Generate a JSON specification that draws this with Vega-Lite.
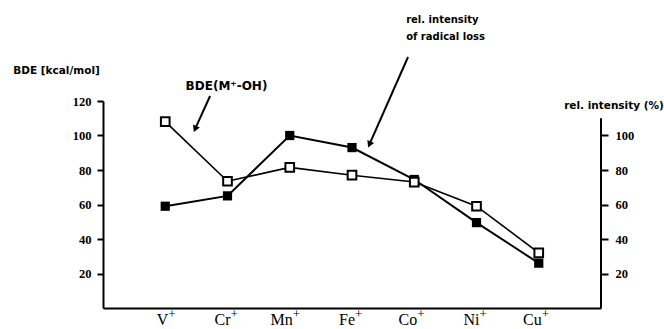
{
  "$schema": "https://vega.github.io/schema/vega-lite/v6.json",
  "width": 498,
  "height": 207,
  "autosize": {"type": "none"},
  "padding": {"left": 103, "top": 101, "right": 63, "bottom": 21},
  "background": "white",
  "config": {
    "view": {"stroke": null},
    "axis": {"grid": false, "domainColor": "black", "tickColor": "black", "labelColor": "black", "titleColor": "black"}
  },
  "datasets": {
    "ions": [
      {"ion": "V", "charge": "+", "Z": 23, "bde": 108, "rel": 59},
      {"ion": "Cr", "charge": "+", "Z": 24, "bde": 73.5, "rel": 65},
      {"ion": "Mn", "charge": "+", "Z": 25, "bde": 81.5, "rel": 100},
      {"ion": "Fe", "charge": "+", "Z": 26, "bde": 77, "rel": 93},
      {"ion": "Co", "charge": "+", "Z": 27, "bde": 73, "rel": 74.5},
      {"ion": "Ni", "charge": "+", "Z": 28, "bde": 59, "rel": 49.5},
      {"ion": "Cu", "charge": "+", "Z": 29, "bde": 32, "rel": 26}
    ],
    "arrows": [
      {"x1": 23.72, "y1": 122.9, "x2": 23.48, "y2": 103.8},
      {"x1": 26.9, "y1": 145.5, "x2": 26.28, "y2": 94.8}
    ],
    "axisline": [{"x": 30, "y1": 0, "y2": 110}],
    "centered": [{"text": "BDE(M⁺-OH)", "x": 23.984, "y": 128.7}],
    "leftnotes": [
      {"text": "rel. intensity", "x": 26.87, "y": 167},
      {"text": "of radical loss", "x": 26.87, "y": 157.1}
    ]
  },
  "layer": [
    {
      "data": {"name": "ions"},
      "encoding": {
        "x": {
          "field": "Z", "type": "quantitative",
          "scale": {"domain": [22, 30], "nice": false, "zero": false},
          "axis": {
            "values": [23, 24, 25, 26, 27, 28, 29], "labels": false,
            "ticks": false, "domainWidth": 2, "title": null
          }
        },
        "y": {
          "field": "rel", "type": "quantitative",
          "scale": {"domain": [0, 120], "nice": false},
          "axis": {
            "orient": "right", "values": [20, 40, 60, 80, 100], "domain": false,
            "tickSize": 7, "tickWidth": 2, "labelPadding": 7,
            "labelFont": "Liberation Serif", "labelFontSize": 12.5, "labelFontWeight": "bold",
            "title": "rel. intensity (%)", "titleAngle": 0, "titleX": 12.5, "titleY": 4,
            "titleAlign": "center", "titleBaseline": "middle",
            "titleFont": "DejaVu Sans", "titleFontSize": 10.5, "titleFontWeight": "bold"
          }
        }
      },
      "layer": [
        {"mark": {"type": "line", "color": "black", "strokeWidth": 2}},
        {"mark": {"type": "point", "shape": "square", "filled": true, "color": "black", "size": 85, "opacity": 1}}
      ]
    },
    {
      "data": {"name": "ions"},
      "encoding": {
        "x": {"field": "Z", "type": "quantitative", "scale": {"domain": [22, 30], "nice": false, "zero": false}},
        "y": {
          "field": "bde", "type": "quantitative",
          "scale": {"domain": [0, 120], "nice": false},
          "axis": {
            "orient": "left", "values": [20, 40, 60, 80, 100, 120],
            "domainWidth": 2, "tickSize": 6, "tickWidth": 2, "labelPadding": 6,
            "labelFont": "Liberation Serif", "labelFontSize": 12.5, "labelFontWeight": "bold",
            "title": "BDE [kcal/mol]", "titleAngle": 0, "titleX": -47, "titleY": -31,
            "titleAlign": "center", "titleBaseline": "middle",
            "titleFont": "DejaVu Sans", "titleFontSize": 10.5, "titleFontWeight": "bold"
          }
        }
      },
      "layer": [
        {"mark": {"type": "line", "color": "black", "strokeWidth": 1.6}},
        {"mark": {"type": "point", "shape": "square", "filled": false, "fill": "white", "stroke": "black", "strokeWidth": 2, "size": 75, "opacity": 1}}
      ]
    },
    {
      "layer": [
        {
          "data": {"name": "axisline"},
          "mark": {"type": "rule", "color": "black", "strokeWidth": 2},
          "encoding": {
            "x": {"field": "x", "type": "quantitative", "scale": {"domain": [22, 30], "nice": false, "zero": false}},
            "y": {"field": "y1", "type": "quantitative", "scale": {"domain": [0, 120], "nice": false}, "axis": null},
            "y2": {"field": "y2"}
          }
        },
        {
          "data": {"name": "arrows"},
          "mark": {"type": "rule", "color": "black", "strokeWidth": 2},
          "encoding": {
            "x": {"field": "x1", "type": "quantitative", "scale": {"domain": [22, 30], "nice": false, "zero": false}},
            "x2": {"field": "x2"},
            "y": {"field": "y1", "type": "quantitative"},
            "y2": {"field": "y2"}
          }
        },
        {
          "data": {"name": "arrows"},
          "mark": {"type": "point", "shape": "triangle-down", "angle": 24, "filled": true, "color": "black", "size": 55, "opacity": 1},
          "encoding": {
            "x": {"field": "x2", "type": "quantitative", "scale": {"domain": [22, 30], "nice": false, "zero": false}},
            "y": {"field": "y2", "type": "quantitative"}
          }
        },
        {
          "data": {"name": "centered"},
          "mark": {"type": "text", "align": "center", "baseline": "middle", "font": "DejaVu Sans", "fontSize": 12, "fontWeight": "bold", "color": "black"},
          "encoding": {
            "x": {"field": "x", "type": "quantitative", "scale": {"domain": [22, 30], "nice": false, "zero": false}},
            "y": {"field": "y", "type": "quantitative"},
            "text": {"field": "text"}
          }
        },
        {
          "data": {"name": "leftnotes"},
          "mark": {"type": "text", "align": "left", "baseline": "middle", "font": "DejaVu Sans", "fontSize": 10, "fontWeight": "bold", "color": "black"},
          "encoding": {
            "x": {"field": "x", "type": "quantitative", "scale": {"domain": [22, 30], "nice": false, "zero": false}},
            "y": {"field": "y", "type": "quantitative"},
            "text": {"field": "text"}
          }
        },
        {
          "data": {"name": "ions"},
          "mark": {"type": "text", "align": "right", "baseline": "alphabetic", "dx": 3, "dy": 17, "font": "Liberation Serif", "fontSize": 16, "color": "black"},
          "encoding": {
            "x": {"field": "Z", "type": "quantitative", "scale": {"domain": [22, 30], "nice": false, "zero": false}},
            "y": {"datum": 0, "type": "quantitative"},
            "text": {"field": "ion"}
          }
        },
        {
          "data": {"name": "ions"},
          "mark": {"type": "text", "align": "left", "baseline": "alphabetic", "dx": 3, "dy": 10, "font": "Liberation Serif", "fontSize": 13, "color": "black"},
          "encoding": {
            "x": {"field": "Z", "type": "quantitative", "scale": {"domain": [22, 30], "nice": false, "zero": false}},
            "y": {"datum": 0, "type": "quantitative"},
            "text": {"field": "charge"}
          }
        }
      ]
    }
  ],
  "resolve": {"scale": {"y": "independent"}}
}
